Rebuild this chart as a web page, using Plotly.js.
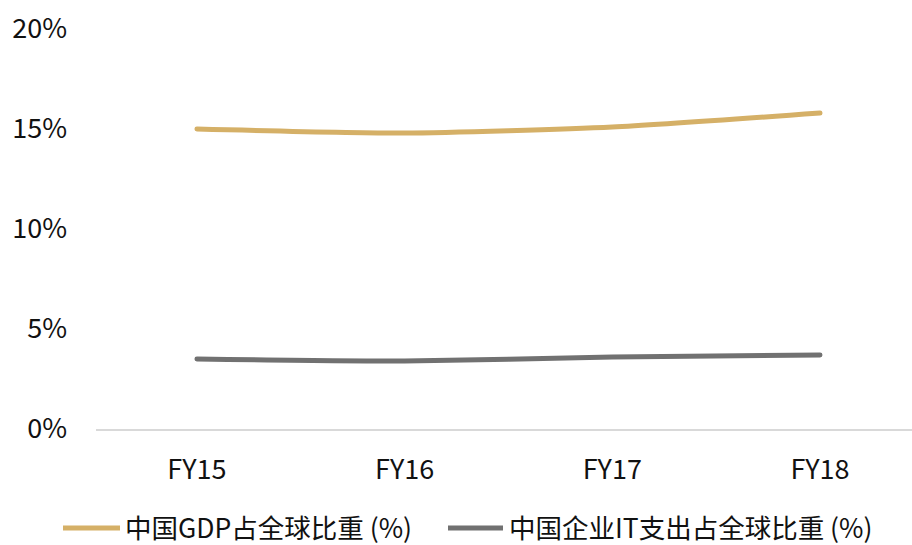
<!DOCTYPE html>
<html>
<head>
<meta charset="utf-8">
<script src="https://cdn.plot.ly/plotly-3.0.1.min.js"></script>
<style>
  html, body { margin: 0; padding: 0; background: #fff; }
  #chart { width: 912px; height: 545px; }
  .scatterlayer path.js-line { stroke-linecap: round; }
</style>
</head>
<body>
<div id="chart"></div>
<script>
// Fiscal years on the x axis
const categories = ['FY15', 'FY16', 'FY17', 'FY18'];

// China's share of world GDP (%)
const gdpShare = [15.0, 14.8, 15.1, 15.8];
// China's share of global enterprise IT spending (%)
const itShare = [3.5, 3.4, 3.6, 3.7];

const seriesNames = ['中国GDP占全球比重 (%)', '中国企业IT支出占全球比重 (%)'];
const seriesColors = ['#D5B067', '#717171'];

const yTickValues = [0, 5, 10, 15, 20];
const yTickLabels = ['0%', '5%', '10%', '15%', '20%'];

const FONT = '"Noto Sans CJK SC", "Noto Sans", sans-serif';

// plot area in pixels, used to place the hand-drawn legend
const W = 912, H = 545;
const M = { l: 96, r: 0, t: 29, b: 116 };
const plotW = W - M.l - M.r, plotH = H - M.t - M.b;
const px = x => (x - M.l) / plotW;
const py = y => (H - M.b - y) / plotH;

const traces = [gdpShare, itShare].map((vals, i) => ({
  type: 'scatter',
  mode: 'lines',
  x: categories,
  y: vals,
  name: seriesNames[i],
  line: { color: seriesColors[i], width: 5, shape: 'spline', smoothing: 0.6 },
  showlegend: false,
  hoverinfo: 'skip'
}));

// legend: a thick line sample followed by the series name
const legendItems = [
  { x0: 63, x1: 120, tx: 124 },
  { x0: 448, x1: 503, tx: 508 }
];
const legendY = 526;
const shapes = legendItems.map((it, i) => ({
  type: 'line', xref: 'paper', yref: 'paper',
  x0: px(it.x0), x1: px(it.x1), y0: py(528), y1: py(528),
  line: { color: seriesColors[i], width: 5 }
}));
const annotations = legendItems.map((it, i) => ({
  xref: 'paper', yref: 'paper',
  x: px(it.tx), y: py(legendY),
  xanchor: 'left', yanchor: 'middle',
  text: seriesNames[i], showarrow: false, borderpad: 0,
  font: { family: FONT, size: 26.5, color: '#111' }
}));

const layout = {
  width: W, height: H,
  margin: M,
  paper_bgcolor: '#fff', plot_bgcolor: '#fff',
  font: { family: FONT, size: 27, color: '#111' },
  showlegend: false,
  xaxis: {
    type: 'category',
    range: [-0.486, 3.443],
    showgrid: false, zeroline: false,
    showline: true, linecolor: '#d9d9d9', linewidth: 1.5,
    ticks: '', ticklabelstandoff: 16,
    tickfont: { family: FONT, size: 27, color: '#111' },
    fixedrange: true
  },
  yaxis: {
    range: [0, 20],
    tickvals: yTickValues, ticktext: yTickLabels,
    showgrid: false, zeroline: false, showline: false,
    ticks: '', ticklabelstandoff: 28,
    tickfont: { family: FONT, size: 27, color: '#111' },
    fixedrange: true
  },
  shapes: shapes,
  annotations: annotations
};

Plotly.newPlot('chart', traces, layout, { displayModeBar: false, staticPlot: true });
</script>
</body>
</html>
